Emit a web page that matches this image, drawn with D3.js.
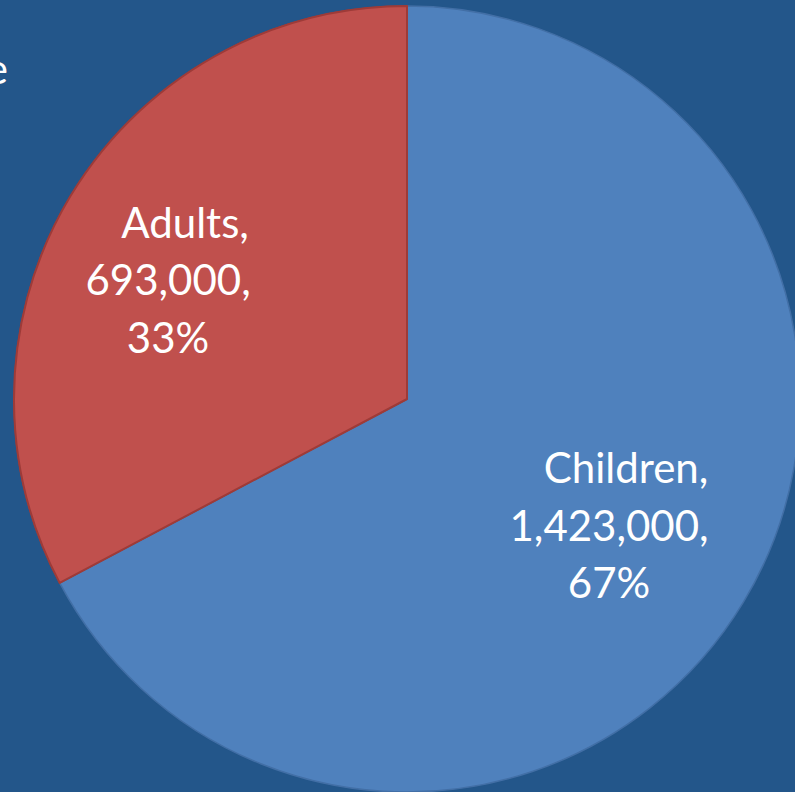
<!DOCTYPE html>
<html>
<head>
<meta charset="utf-8">
<script src="https://cdn.jsdelivr.net/npm/d3@7"></script>
<style>
  html, body { margin: 0; padding: 0; background: #23568A; overflow: hidden; }
  svg { display: block; }
</style>
</head>
<body>
<svg id="chart" width="795" height="792"></svg>
<script>
// Population split by group
const categories = ["Children", "Adults"];
const values = [1423000, 693000];
const percentLabels = ["67%", "33%"];
const sliceColors = ["#4F81BD", "#C0504D"];
const sliceStrokes = ["#426FA6", "#9E3B38"];

const width = 795, height = 792;
const cx = 407, cy = 399, radius = 393;

const svg = d3.select("#chart");

svg.append("rect")
  .attr("width", width).attr("height", height)
  .attr("fill", "#23568A");

// Title text running off the left edge
svg.append("text")
  .attr("x", 8).attr("y", 84)
  .attr("text-anchor", "end")
  .attr("font-family", "Lato, 'Open Sans', sans-serif")
  .attr("font-size", 42)
  .attr("fill", "#ffffff")
  .text("e");

const data = categories.map((c, i) => ({ name: c, value: values[i], pct: percentLabels[i], i }));

const pie = d3.pie().value(d => d.value).sort(null);
const arcs = pie(data);

const arc = d3.arc().innerRadius(0).outerRadius(radius);

const g = svg.append("g").attr("transform", `translate(${cx},${cy})`);

g.selectAll("path.slice")
  .data(arcs)
  .join("path")
  .attr("class", "slice")
  .attr("d", arc)
  .attr("fill", d => sliceColors[d.data.i])
  .attr("stroke", d => sliceStrokes[d.data.i])
  .attr("stroke-width", 1.5)
  .attr("stroke-linejoin", "round");

// Redraw the smaller slice on top so its outline stays visible
g.append("path")
  .datum(arcs[1])
  .attr("d", arc)
  .attr("fill", sliceColors[1])
  .attr("stroke", sliceStrokes[1])
  .attr("stroke-width", 2)
  .attr("stroke-linejoin", "round");

// Label placement: fraction of radius and nudge per slice
const labelRadiusFrac = [0.615, 0.68];
const labelNudge = [[-5, 3], [-10, 20]];
const fmt = d3.format(",");
const lineGap = 57.5;

arcs.forEach(a => {
  const i = a.data.i;
  const lr = radius * labelRadiusFrac[i];
  const [px, py] = d3.arc().innerRadius(lr).outerRadius(lr).centroid(a);
  const x = px + labelNudge[i][0];
  const y = py + labelNudge[i][1];
  const lines = [a.data.name + ",", fmt(a.data.value) + ",", a.data.pct];
  const lineDx = [17, 0, 0];
  const t = g.append("text")
    .attr("text-anchor", "middle")
    .attr("font-family", "Lato, 'Open Sans', sans-serif")
    .attr("font-size", 42)
    .attr("fill", "#ffffff");
  lines.forEach((s, k) => {
    t.append("tspan")
      .attr("x", x + lineDx[k])
      .attr("y", y + (k - 1) * lineGap + 14)
      .text(s);
  });
});
</script>
</body>
</html>
